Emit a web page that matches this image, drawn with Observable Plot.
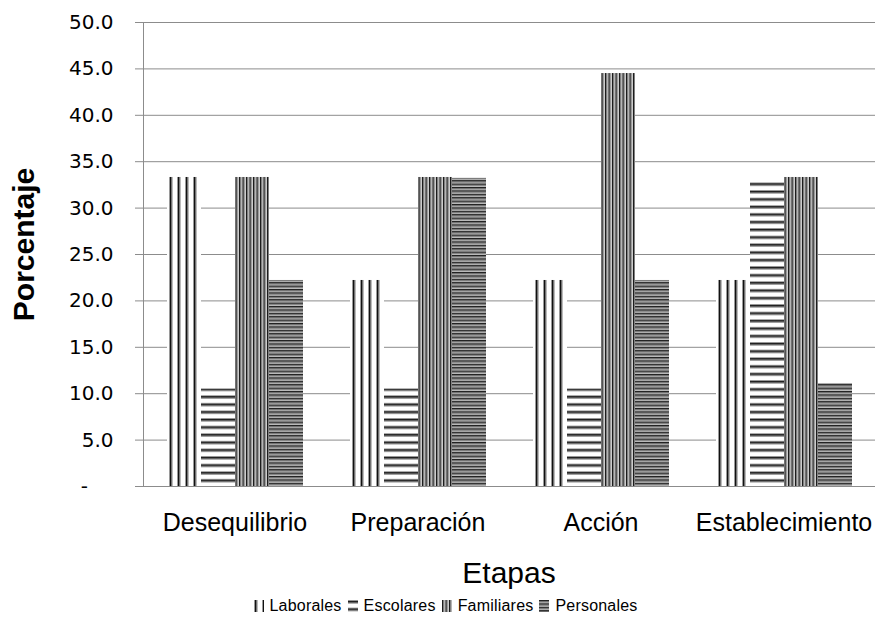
<!DOCTYPE html>
<html><head><meta charset="utf-8">
<script src="https://cdn.jsdelivr.net/npm/d3@7"></script>
<script src="https://cdn.jsdelivr.net/npm/@observablehq/plot@0.6"></script>
<style>
body{margin:0;background:#fff;}
#wrap{width:891px;height:628px;position:relative;overflow:hidden;background:#fff}
#wrap svg.plot{display:block}
#xtitle{box-sizing:border-box;width:891px;padding-left:142px;padding-right:15px;margin-top:8px;height:30px;line-height:30px;font-size:30px;font-family:"Liberation Sans",Arial,sans-serif;text-align:center;color:#000}
#legend{margin-top:9px;height:18px;line-height:18px;display:flex;justify-content:center;align-items:center;font-size:16px;font-family:"Liberation Sans",Arial,sans-serif;letter-spacing:0.2px;color:#000}
#legend .item{display:flex;align-items:center;margin:0 3px}
#legend svg{margin-right:6px}
</style>
</head><body>
<svg width="0" height="0" style="position:absolute">
 <defs>
  <pattern id="pLab" patternUnits="userSpaceOnUse" width="8" height="8">
   <rect width="8" height="8" fill="#fff"/>
   <rect x="0" width="1" height="8" fill="#9a9a9a"/>
   <rect x="1" width="1.6" height="8" fill="#111"/>
   <rect x="2.6" width="0.9" height="8" fill="#777"/>
  </pattern>
  <pattern id="pEsc" patternUnits="userSpaceOnUse" width="8" height="7.6">
   <rect width="8" height="7.6" fill="#fff"/>
   <rect y="0" width="8" height="1" fill="#9a9a9a"/>
   <rect y="1" width="8" height="1.6" fill="#111"/>
   <rect y="2.6" width="8" height="0.9" fill="#777"/>
  </pattern>
  <pattern id="pFam" patternUnits="userSpaceOnUse" width="3.5" height="8">
   <rect width="3.5" height="8" fill="#cfcfcf"/>
   <rect x="0" width="1.2" height="8" fill="#151515"/>
   <rect x="1.2" width="0.9" height="8" fill="#6a6a6a"/>
  </pattern>
  <pattern id="pPer" patternUnits="userSpaceOnUse" width="8" height="3.4">
   <rect width="8" height="3.4" fill="#bdbdbd"/>
   <rect y="0" width="8" height="1.2" fill="#1c1c1c"/>
   <rect y="1.2" width="8" height="0.9" fill="#5c5c5c"/>
  </pattern>
 </defs>
</svg>
<div id="wrap"></div>
<script>
// ---- data ----
const etapas = ["Desequilibrio", "Preparación", "Acción", "Establecimiento"];
const series = ["Laborales", "Escolares", "Familiares", "Personales"];
const laborales  = [33.3, 22.2, 22.2, 22.2];
const escolares  = [10.5, 10.5, 10.5, 32.8];
const familiares = [33.3, 33.3, 44.5, 33.3];
const personales = [22.2, 33.2, 22.2, 11.1];
const yTicks = [0, 5, 10, 15, 20, 25, 30, 35, 40, 45, 50];
const yTickLabels = ["-\u00a0\u00a0\u00a0\u00a0", "5.0", "10.0", "15.0", "20.0", "25.0", "30.0", "35.0", "40.0", "45.0", "50.0"];
const yTitle = "Porcentaje";
const xTitle = "Etapas";
const patterns = ["url(#pLab)", "url(#pEsc)", "url(#pFam)", "url(#pPer)"];

const valuesBySeries = [laborales, escolares, familiares, personales];
const rows = [];
etapas.forEach((e, i) => series.forEach((s, j) => rows.push({etapa: e, serie: s, valor: valuesBySeries[j][i]})));

const chart = Plot.plot({
  width: 891,
  height: 550,
  marginLeft: 142,
  marginRight: 15,
  marginTop: 22,
  marginBottom: 64,
  style: {fontFamily: "'DejaVu Sans', sans-serif", fontSize: "20px", color: "#000", background: "#fff"},
  fx: {domain: etapas, padding: 0, axis: null, label: null},
  x: {domain: series, paddingInner: 0, paddingOuter: 0.66, axis: null, label: null},
  y: {domain: [0, 50], label: null},
  color: {domain: series, range: patterns},
  marks: [
    Plot.ruleY(yTicks.slice(1), {stroke: "#8c8c8c", strokeWidth: 1}),
    Plot.barY(rows, {fx: "etapa", x: "serie", y: "valor", fill: "serie", insetLeft: 0, insetRight: 0}),
    Plot.ruleY([0], {stroke: "#8c8c8c", strokeWidth: 1}),
    Plot.frame({anchor: "left", stroke: "#8c8c8c", facetAnchor: "left"}),
    Plot.axisY(yTicks, {
      tickFormat: d => yTickLabels[yTicks.indexOf(d)],
      tickSize: 8, tickPadding: 22, stroke: "#8c8c8c", fill: "#000",
      fontSize: 20, label: null
    }),
    Plot.text(etapas, {fx: d => d, text: d => d, frameAnchor: "bottom", lineAnchor: "top", dy: 27,
      fontSize: 25, fontFamily: "'Liberation Sans', Arial, sans-serif", fill: "#000"}),
    Plot.text([yTitle], {fx: () => etapas[0], text: d => d, frameAnchor: "left", textAnchor: "middle", rotate: -90, lineAnchor: "top",
      dx: -131, dy: -10, fontSize: 30, fontWeight: "bold", fontFamily: "'Liberation Sans', Arial, sans-serif", fill: "#000"})
  ]
});
chart.classList.add("plot");
const wrap = document.getElementById("wrap");
wrap.appendChild(chart);

const xt = document.createElement("div");
xt.id = "xtitle";
xt.textContent = xTitle;
wrap.appendChild(xt);

const legend = document.createElement("div");
legend.id = "legend";
series.forEach((s, j) => {
  const item = document.createElement("div");
  item.className = "item";
  const ns = "http://www.w3.org/2000/svg";
  const sw = document.createElementNS(ns, "svg");
  sw.setAttribute("width", 10); sw.setAttribute("height", 12);
  const r = document.createElementNS(ns, "rect");
  r.setAttribute("width", 10); r.setAttribute("height", 12);
  r.setAttribute("fill", patterns[j]);
  sw.appendChild(r);
  item.appendChild(sw);
  const t = document.createElement("span");
  t.textContent = s;
  item.appendChild(t);
  legend.appendChild(item);
});
wrap.appendChild(legend);
</script>
</body></html>
